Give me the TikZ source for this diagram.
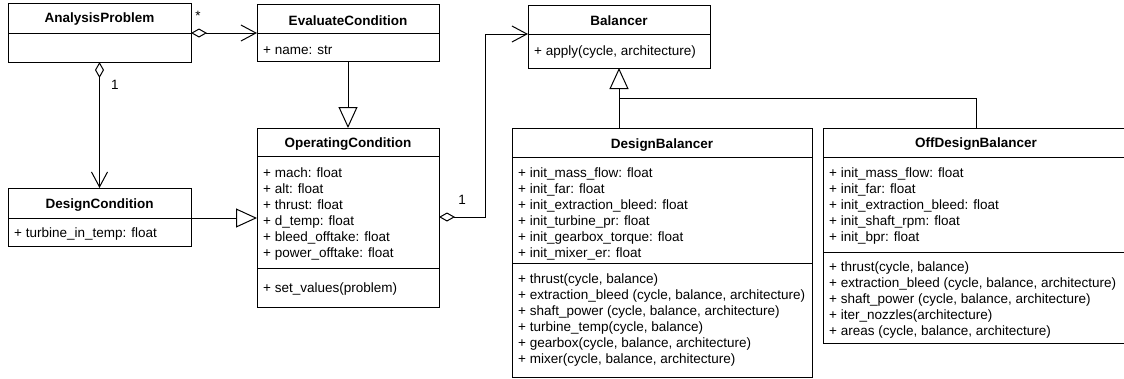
\documentclass[tikz,border=0pt]{standalone}
\usepackage{fontspec}
\setmainfont{Liberation Sans}
\usetikzlibrary{arrows.meta}
\tikzset{
  box/.style={draw, line width=1pt, rectangle, inner sep=0pt, outer sep=0pt, anchor=north west},
  ln/.style={line width=1pt},
  txt/.style={font=\fontsize{13.5}{16}\selectfont, inner sep=0pt, anchor=base west},
  ttl/.style={font=\fontsize{13.5}{16}\selectfont\bfseries, inner sep=0pt, anchor=base},
  lbl/.style={font=\fontsize{13.5}{16}\selectfont, inner sep=0pt, anchor=base},
  aggr/.style={ln, {Diamond[length=16pt, width=9pt, fill=white, line width=1pt]}-{Straight Barb[length=15pt, width=16pt, line width=1pt]}},
  gen/.style={ln, -{Triangle[length=21pt, width=19pt, fill=white, line width=1pt]}},
}
\newcommand\umllines[4]{\foreach \lntext [count=\i] in {#4}{\node[txt] (#1\i) at (#2,{#3+16*(\i-1)}) {\lntext};}}
\begin{document}
\begin{tikzpicture}[x=1pt, y=-1pt]
\path[use as bounding box] (0,0) rectangle (1124,378);
\clip (0,0) rectangle (1124,378);

% AnalysisProblem
\node[box, minimum width=183pt, minimum height=59pt] (ap) at (8,3) {};
\draw[ln] (ap.west |- 0,33) -- (ap.east |- 0,33);
\node[ttl] (apt) at (99.5,22.9) {AnalysisProblem};

% EvaluateCondition
\node[box, minimum width=182pt, minimum height=57pt] (ec) at (257,4) {};
\draw[ln] (ec.west |- 0,33) -- (ec.east |- 0,33);
\node[ttl] (ect) at (348,25) {EvaluateCondition};
\node[txt] (eca) at (263,54.4) {+ name: str};

% DesignCondition
\node[box, minimum width=183pt, minimum height=58pt] (dc) at (8,188) {};
\draw[ln] (dc.west |- 0,218) -- (dc.east |- 0,218);
\node[ttl] (dct) at (99.5,208.9) {DesignCondition};
\node[txt] (dca) at (14,237.7) {+ turbine\_in\_temp: float};

% OperatingCondition
\node[box, minimum width=182pt, minimum height=179pt] (oc) at (257,128) {};
\draw[ln] (oc.west |- 0,156) -- (oc.east |- 0,156);
\draw[ln] (oc.west |- 0,268) -- (oc.east |- 0,268);
\node[ttl] (oct) at (348,147.9) {OperatingCondition};
\umllines{oca}{263}{177.1}{{+ mach: float},{+ alt: float},{+ thrust: float},{+ d\_temp: float},{+ bleed\_offtake: float},{+ power\_offtake: float}}
\node[txt] (ocm) at (263,292.4) {+ set\_values(problem)};

% Balancer
\node[box, minimum width=182pt, minimum height=63pt] (b) at (528,5) {};
\draw[ln] (b.west |- 0,34) -- (b.east |- 0,34);
\node[ttl] (bt) at (619,25.2) {Balancer};
\node[txt] (bm) at (534,55.1) {+ apply(cycle, architecture)};

% DesignBalancer
\node[box, minimum width=300pt, minimum height=249pt] (db) at (512,128) {};
\draw[ln] (db.west |- 0,157) -- (db.east |- 0,157);
\draw[ln] (db.west |- 0,263) -- (db.east |- 0,263);
\node[ttl] (dbt) at (662,148.6) {DesignBalancer};
\umllines{dba}{518}{177.1}{{+ init\_mass\_flow: float},{+ init\_far: float},{+ init\_extraction\_bleed: float},{+ init\_turbine\_pr: float},{+ init\_gearbox\_torque: float},{+ init\_mixer\_er: float}}
\umllines{dbm}{518}{283.9}{{+ thrust(cycle, balance)},{+ extraction\_bleed (cycle, balance, architecture)},{+ shaft\_power (cycle, balance, architecture)},{+ turbine\_temp(cycle, balance)},{+ gearbox(cycle, balance, architecture)},{+ mixer(cycle, balance, architecture)}}

% OffDesignBalancer
\node[box, minimum width=306pt, minimum height=215pt] (odb) at (823,128) {};
\draw[ln] (odb.west |- 0,157) -- (odb.east |- 0,157);
\draw[ln] (odb.west |- 0,252) -- (odb.east |- 0,252);
\node[ttl] (odbt) at (976,147.9) {OffDesignBalancer};
\umllines{odba}{829}{177.1}{{+ init\_mass\_flow: float},{+ init\_far: float},{+ init\_extraction\_bleed: float},{+ init\_shaft\_rpm: float},{+ init\_bpr: float}}
\umllines{odbm}{829}{271.7}{{+ thrust(cycle, balance)},{+ extraction\_bleed (cycle, balance, architecture)},{+ shaft\_power (cycle, balance, architecture)},{+ iter\_nozzles(architecture)},{+ areas (cycle, balance, architecture)}}

% Connectors
\draw[aggr] (ap.east |- 0,33) -- (ec.west |- 0,33);
\node[lbl] (star) at (198,20.6) {*};
\draw[aggr] (ap.south) -- (dc.north);
\node[lbl] (one1) at (115,89) {1};
\draw[gen] (dc.east |- 0,218) -- (oc.west |- 0,218);
\draw[gen] (ec.south) -- (oc.north);
\draw[aggr] (oc.east |- 0,217) -- ++(46,0) |- (b.west |- 0,34);
\node[lbl] (one2) at (462,204) {1};
\draw[gen] (db.north -| b.south) -- (b.south);
\draw[ln] (odb.north) |- (b.south |- 0,98);
\end{tikzpicture}
\end{document}
